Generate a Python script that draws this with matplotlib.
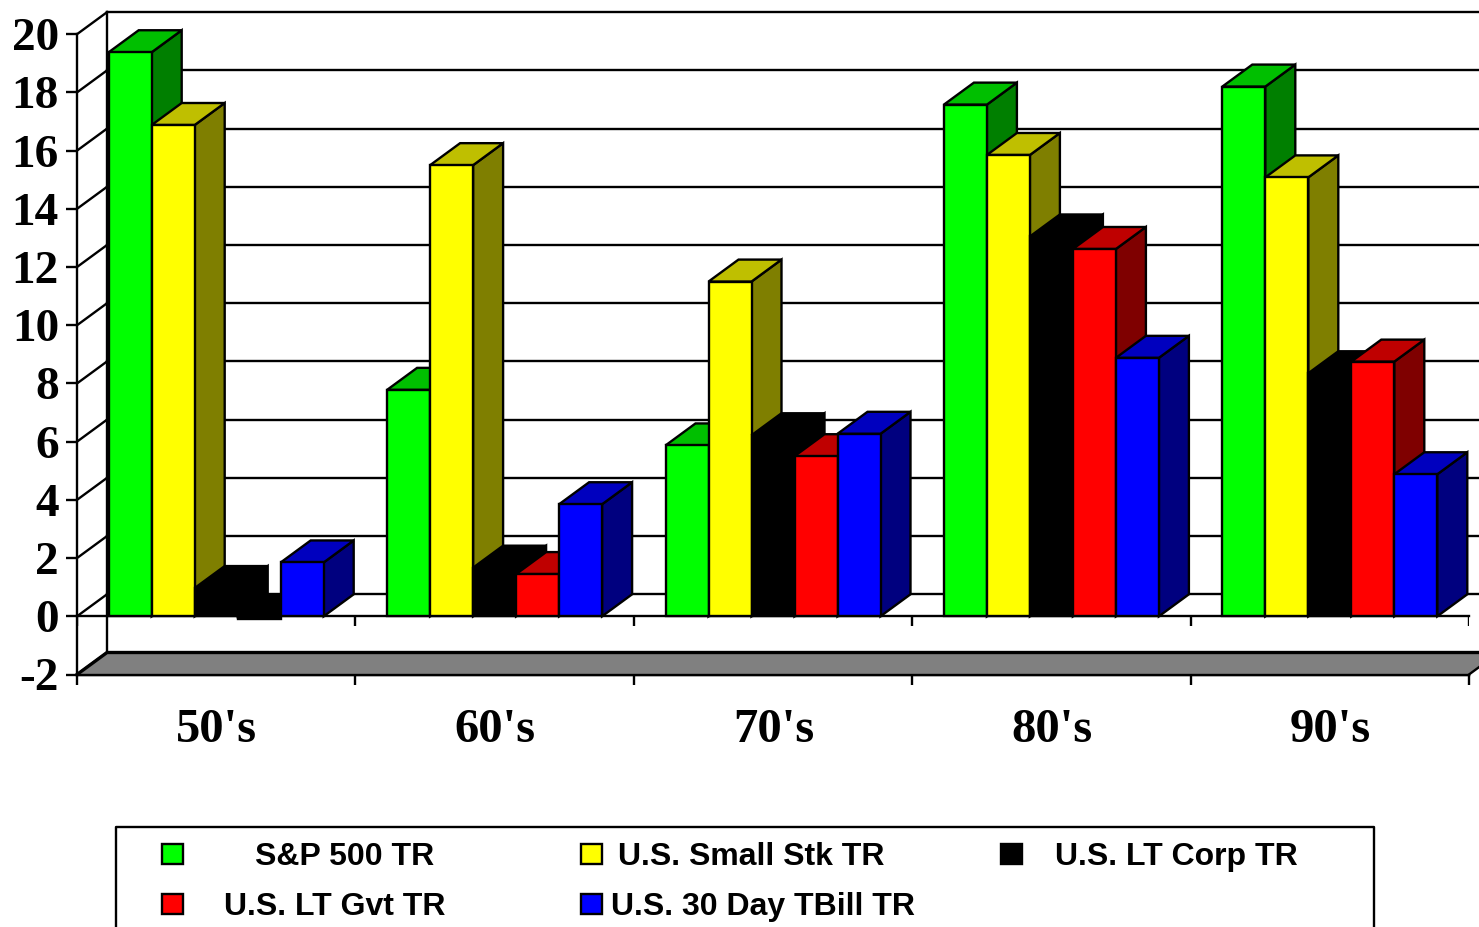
import matplotlib
matplotlib.use("Agg")
import matplotlib.pyplot as plt
from matplotlib.patches import Polygon, Rectangle

decades = ["50's", "60's", "70's", "80's", "90's"]
series = ["S&P 500 TR", "U.S. Small Stk TR", "U.S. LT Corp TR", "U.S. LT Gvt TR", "U.S. 30 Day TBill TR"]
sp500 = [19.38, 7.78, 5.87, 17.58, 18.2]
small_stk = [16.88, 15.5, 11.5, 15.85, 15.08]
lt_corp = [0.97, 1.67, 6.22, 13.05, 8.35]
lt_gvt = [-0.1, 1.45, 5.5, 12.62, 8.75]
tbill = [1.85, 3.85, 6.27, 8.88, 4.88]
yticks = list(range(-2, 21, 2))

front = ["#00FF00", "#FFFF00", "#000000", "#FF0000", "#0000FF"]
top = ["#00BF00", "#BFBF00", "#000000", "#BF0000", "#0000BF"]
side = ["#007F00", "#7F7F00", "#000000", "#7F0000", "#00007F"]
values = [sp500, small_stk, lt_corp, lt_gvt, tbill]

W, H = 1479, 927
PX_X = (1469 - 77) / 5
PX_Y = (674.5 - 34.2) / 22
DX = 30 / PX_X
DV = 22 / PX_Y
BAR_W = 43 / PX_X
BAR_START = (108.7 - 77) / PX_X
LW = 1.7

fig = plt.figure(figsize=(W / 100, H / 100), dpi=100, facecolor="white")
ax = fig.add_axes([77 / W, 1 - 674.5 / H, (1469 - 77) / W, (674.5 - 34.2) / H])
ax.set_xlim(0, 5)
ax.set_ylim(-2, 20)
ax.patch.set_visible(False)
for s in ("top", "right"):
    ax.spines[s].set_visible(False)
for s in ("left", "bottom"):
    ax.spines[s].set_linewidth(LW)

serif = {"family": "Liberation Serif", "weight": "bold", "size": 34}
ax.set_yticks(yticks)
ax.set_yticklabels([str(v) for v in yticks], **serif)
ax.tick_params(axis="y", length=8, width=LW, pad=5)
ax.set_xticks(range(6))
ax.set_xticklabels([""] * 6)
ax.set_xticks([i + 0.502 for i in range(5)], minor=True)
ax.set_xticklabels(decades, minor=True, family="Liberation Serif", weight="bold", size=35)
ax.tick_params(axis="x", which="major", length=7.5, width=LW)
ax.tick_params(axis="x", which="minor", length=0, pad=24)


def line(xs, ys, lw=LW, z=2):
    ax.plot(xs, ys, color="black", lw=lw, clip_on=False, zorder=z, solid_capstyle="projecting")


# back wall, side wall and floor
xmax = 5.2
for v in yticks:
    line([0, DX], [v, v + DV])
    if v > -2:
        line([DX, xmax], [v + DV, v + DV])
line([DX, DX], [-2 + DV, 20 + DV])
ax.add_patch(Polygon([(0, -2), (DX, -2 + DV), (5 + DX, -2 + DV), (5, -2)], closed=True,
                     facecolor="#808080", edgecolor="none", clip_on=False, zorder=3))
line([0, DX, xmax], [-2, -2 + DV, -2 + DV], lw=2.4, z=4)
line([0, 5], [-2, -2], z=4)
line([5, 5 + DX], [-2, -2 + DV], z=4)
line([0, 5], [0, 0], z=4)
ax.vlines(range(6), -10 / PX_Y, 0, color="black", lw=LW, zorder=4)

# bars
z = 5
for g in range(len(decades)):
    for k, vals in enumerate(values):
        v = vals[g]
        x0 = g + BAR_START + k * BAR_W
        x1 = x0 + BAR_W
        hi = max(v, 0)
        neg = v < 0
        cf, ct, cs = ("#000000",) * 3 if neg else (front[k], top[k], side[k])
        kw = dict(edgecolor="black", linewidth=LW, clip_on=False, zorder=z, joinstyle="miter")
        ax.add_patch(Polygon([(x1, 0), (x1 + DX, DV), (x1 + DX, hi + DV), (x1, hi)], closed=True, facecolor=cs, **kw))
        ax.add_patch(Polygon([(x0, hi), (x0 + DX, hi + DV), (x1 + DX, hi + DV), (x1, hi)], closed=True, facecolor=ct, **kw))
        ax.add_patch(Rectangle((x0, min(v, 0)), BAR_W, abs(v), facecolor=cf, **kw))
        z += 1

# legend panel
lg = fig.add_axes([0, 0, 1, 1])
lg.set_xlim(0, W)
lg.set_ylim(H, 0)
lg.axis("off")
lg.plot([116, 116, 1374, 1374], [940, 827, 827, 940], color="black", lw=LW, clip_on=True)
marker_x = [162, 581, 1001, 162, 581]
text_x = [255, 618, 1055, 224, 611]
row_y = [854, 854, 854, 904, 904]
for name, c, mx, tx, y in zip(series, front, marker_x, text_x, row_y):
    lg.add_patch(Rectangle((mx, y - 10), 21, 20, facecolor=c, edgecolor="black", linewidth=LW))
    lg.text(tx, y + 11, name, family="Liberation Sans", weight="bold", size=23, ha="left", va="baseline", color="black")

fig.savefig("out.png", dpi=100)
